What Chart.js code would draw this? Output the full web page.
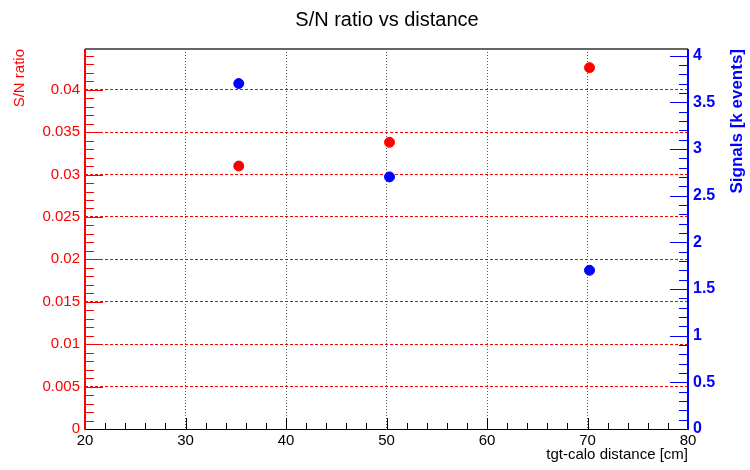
<!DOCTYPE html>
<html lang="en">
<head>
    <meta charset="UTF-8">
    <title>S/N ratio vs distance</title>
    <script src="https://cdn.jsdelivr.net/npm/chart.js"></script>
    <style>
        body { margin: 0; background: #fff; }
        #wrap { width: 750px; height: 470px; }
    </style>
</head>
<body>
<div id="wrap"><canvas id="snChart" width="750" height="470"></canvas></div>

<script>
    // distances of the three setups
    const distances = [35.3, 50.3, 70.2];
    // S/N ratio (left axis)
    const snRatio = [0.0310, 0.0338, 0.0426];
    // signals in k events (right axis)
    const signals = [3.70, 2.70, 1.70];

    const xTickValues = [20, 30, 40, 50, 60, 70, 80];
    const xTickLabels = ['20', '30', '40', '50', '60', '70', '80'];
    const leftTickValues = [0, 0.005, 0.01, 0.015, 0.02, 0.025, 0.03, 0.035, 0.04];
    const leftTickLabels = ['0', '0.005', '0.01', '0.015', '0.02', '0.025', '0.03', '0.035', '0.04'];
    const rightTickValues = [0, 0.5, 1, 1.5, 2, 2.5, 3, 3.5, 4];
    const rightTickLabels = ['0', '0.5', '1', '1.5', '2', '2.5', '3', '3.5', '4'];

    const FONT = '"Liberation Sans", Arial, sans-serif';

    // ROOT-like frame, inward ticks and titles
    const framePlugin = {
        id: 'frame',
        beforeDatasetsDraw(chart) {
            const ctx = chart.ctx;
            const a = chart.chartArea;
            const x = chart.scales.x, yl = chart.scales.y, yr = chart.scales.y2;
            ctx.save();

            // x ticks (bottom, pointing up)
            ctx.strokeStyle = '#000';
            ctx.lineWidth = 1;
            for (let v = 20; v <= 80.001; v += 2) {
                const px = Math.round(x.getPixelForValue(v)) + 0.5;
                const major = Math.abs(v % 10) < 0.001;
                ctx.beginPath();
                ctx.moveTo(px, a.bottom);
                ctx.lineTo(px, a.bottom - (major ? 11 : 6));
                ctx.stroke();
            }

            // left ticks (red, pointing right)
            ctx.strokeStyle = '#ff0000';
            for (let i = 0; i <= 44; i++) {
                const v = i * 0.001;
                const py = Math.round(yl.getPixelForValue(v)) + 0.5;
                ctx.beginPath();
                ctx.moveTo(a.left, py);
                ctx.lineTo(a.left + (i % 5 === 0 ? 18 : 9), py);
                ctx.stroke();
            }

            // right ticks (blue, pointing left)
            ctx.strokeStyle = '#0000ff';
            for (let i = 0; i <= 40; i++) {
                const v = i * 0.1;
                const py = Math.round(yr.getPixelForValue(v)) + 0.5;
                ctx.beginPath();
                ctx.moveTo(a.right, py);
                ctx.lineTo(a.right - (i % 5 === 0 ? 18 : 9), py);
                ctx.stroke();
            }

            // frame lines
            ctx.lineWidth = 2;
            ctx.strokeStyle = '#666';
            ctx.beginPath(); ctx.moveTo(a.left, a.top); ctx.lineTo(a.right, a.top); ctx.stroke();
            ctx.lineWidth = 1;
            ctx.strokeStyle = '#000';
            ctx.beginPath(); ctx.moveTo(a.left, a.bottom + 0.5); ctx.lineTo(a.right, a.bottom + 0.5); ctx.stroke();
            ctx.lineWidth = 2;
            ctx.strokeStyle = '#ff0000';
            ctx.beginPath(); ctx.moveTo(a.left, a.top); ctx.lineTo(a.left, a.bottom + 1); ctx.stroke();
            ctx.strokeStyle = '#0000ff';
            ctx.beginPath(); ctx.moveTo(a.right, a.top); ctx.lineTo(a.right, a.bottom + 1); ctx.stroke();

            // titles
            ctx.fillStyle = '#000';
            ctx.font = '20px ' + FONT;
            ctx.textAlign = 'center';
            ctx.textBaseline = 'middle';
            ctx.fillText('S/N ratio vs distance', 387, 20);

            ctx.font = '15px ' + FONT;
            ctx.textAlign = 'right';
            ctx.fillText('tgt-calo distance [cm]', a.right, 455);

            ctx.save();
            ctx.translate(20, a.top);
            ctx.rotate(-Math.PI / 2);
            ctx.fillStyle = '#ff0000';
            ctx.textAlign = 'right';
            ctx.fillText('S/N ratio', 0, 0);
            ctx.restore();

            ctx.save();
            ctx.translate(737, a.top);
            ctx.rotate(-Math.PI / 2);
            ctx.fillStyle = '#0000ff';
            ctx.font = 'bold 17px ' + FONT;
            ctx.textAlign = 'right';
            ctx.fillText('Signals [k events]', 0, 0);
            ctx.restore();

            ctx.restore();
        }
    };

    new Chart(document.getElementById('snChart'), {
        type: 'scatter',
        data: {
            datasets: [
                {
                    label: 'S/N ratio',
                    data: distances.map((d, i) => ({ x: d, y: snRatio[i] })),
                    backgroundColor: '#ff0000',
                    borderColor: '#ff0000',
                    pointRadius: 5,
                    yAxisID: 'y'
                },
                {
                    label: 'Signals',
                    data: distances.map((d, i) => ({ x: d, y: signals[i] })),
                    backgroundColor: '#0000ff',
                    borderColor: '#0000ff',
                    pointRadius: 5,
                    yAxisID: 'y2'
                }
            ]
        },
        options: {
            responsive: false,
            animation: false,
            events: [],
            layout: { padding: { top: 49, left: 0, right: 0, bottom: 0 } },
            plugins: {
                legend: { display: false },
                title: { display: false },
                tooltip: { enabled: false }
            },
            scales: {
                x: {
                    type: 'linear',
                    min: 20,
                    max: 80,
                    afterFit: s => { s.height = 41; },
                    afterBuildTicks: s => { s.ticks = xTickValues.map(v => ({ value: v })); },
                    ticks: {
                        autoSkip: false,
                        maxRotation: 0,
                        padding: 3,
                        color: '#000',
                        font: { family: FONT, size: 15 },
                        callback: (v, i) => xTickLabels[i]
                    },
                    grid: {
                        drawTicks: false,
                        color: c => (c.tick && c.tick.value > 20 && c.tick.value < 80) ? '#555' : 'rgba(0,0,0,0)',
                        lineWidth: 1
                    },
                    border: { display: false, dash: [1, 2] }
                },
                y: {
                    type: 'linear',
                    position: 'left',
                    min: 0,
                    max: 0.0448,
                    afterFit: s => { s.width = 85; },
                    afterBuildTicks: s => { s.ticks = leftTickValues.map(v => ({ value: v })); },
                    ticks: {
                        autoSkip: false,
                        padding: 5,
                        color: '#ff0000',
                        font: { family: FONT, size: 15 },
                        callback: (v, i) => leftTickLabels[i]
                    },
                    grid: {
                        drawTicks: false,
                        color: c => (c.tick && c.tick.value > 0) ? '#ff0000' : 'rgba(0,0,0,0)',
                        lineWidth: 1
                    },
                    border: { display: false, dash: [3, 2] }
                },
                y2: {
                    type: 'linear',
                    position: 'right',
                    min: 0,
                    max: 4.07,
                    afterFit: s => { s.width = 62; },
                    afterBuildTicks: s => { s.ticks = rightTickValues.map(v => ({ value: v })); },
                    ticks: {
                        autoSkip: false,
                        padding: 5,
                        color: '#0000ff',
                        font: { family: FONT, size: 16, weight: 'bold' },
                        callback: (v, i) => rightTickLabels[i]
                    },
                    grid: { display: false, drawTicks: false },
                    border: { display: false }
                }
            }
        },
        plugins: [framePlugin]
    });
</script>
</body>
</html>
